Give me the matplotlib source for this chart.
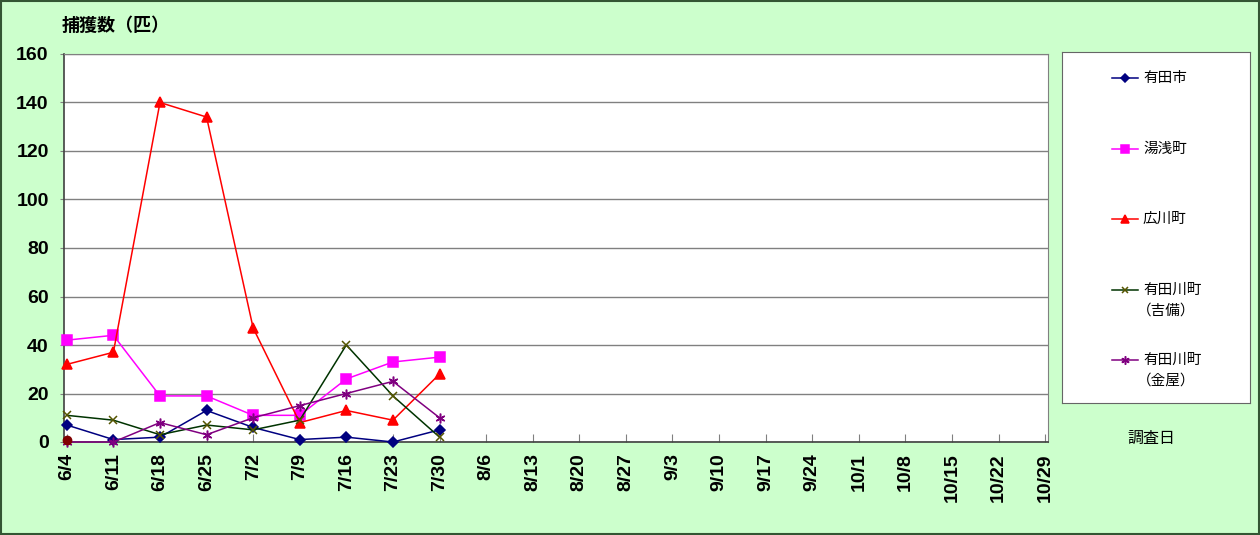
import numpy as np
import matplotlib
matplotlib.use("Agg")
import matplotlib.pyplot as plt
from matplotlib.lines import Line2D

plt.rcParams['font.family'] = ['Liberation Sans', 'Noto Sans CJK JP', 'DejaVu Sans']

# survey dates (category axis)
dates = ["6/4", "6/11", "6/18", "6/25", "7/2", "7/9", "7/16", "7/23", "7/30",
         "8/6", "8/13", "8/20", "8/27", "9/3", "9/10", "9/17", "9/24",
         "10/1", "10/8", "10/15", "10/22", "10/29"]

# catch counts, only first 9 dates have data
arida_shi = [7, 1, 2, 13, 6, 1, 2, 0, 5]
yuasa = [42, 44, 19, 19, 11, 11, 26, 33, 35]
hirogawa = [32, 37, 140, 134, 47, 8, 13, 9, 28]
aridagawa_kibi = [11, 9, 3, 7, 5, 9, 40, 19, 2]
aridagawa_kanaya = [0, 0, 8, 3, 10, 15, 20, 25, 10]
extra_point = [1]  # stray dark red marker at 6/4

series = [
    ("有田市", arida_shi, "#000080", "D", 5, "#000080"),
    ("湯浅町", yuasa, "#FF00FF", "s", 6.5, "#FF00FF"),
    ("広川町", hirogawa, "#FF0000", "^", 6.5, "#FF0000"),
    ("有田川町\n（吉備）", aridagawa_kibi, "#003300", "x", 6, "#555500"),
    ("有田川町\n（金屋）", aridagawa_kanaya, "#800080", (6, 2, 0), 7, "#800080"),
]

fig = plt.figure(figsize=(12.6, 5.35), dpi=100, facecolor="#CCFFCC")
W, H = 1260.0, 535.0
# outer border
fig.patches.append(plt.Rectangle((0.001, 0.002), 0.998, 0.996, transform=fig.transFigure,
                                 fill=False, edgecolor="#335533", linewidth=1.5))

ax = fig.add_axes([64 / W, 1 - 442 / H, (1048 - 64) / W, (442 - 54) / H])
ax.set_facecolor("white")
x = np.arange(len(dates))
for name, vals, col, mk, ms, mcol in series:
    ax.plot(x[:len(vals)], vals, color=col, marker=mk, markersize=ms,
            markerfacecolor=mcol, markeredgecolor=mcol, linewidth=1.1,
            markeredgewidth=1.1, clip_on=False, zorder=3)
ax.plot(x[:1], extra_point, linestyle="none", marker="o", markersize=6,
        color="#800000", clip_on=False, zorder=4)

ax.set_xlim(-0.06, len(dates) - 1 + 0.06)
ax.set_ylim(0, 160)
ax.set_yticks(np.arange(0, 161, 20))
ax.set_xticks(x)
ax.set_xticklabels(dates, rotation=90, fontsize=14, fontweight="bold")
for lab in ax.get_yticklabels():
    lab.set_fontsize(14)
    lab.set_fontweight("bold")
ax.tick_params(axis="x", direction="in", length=6, color="#808080", pad=8)
ax.tick_params(axis="y", direction="out", length=3, color="#808080", pad=8)
ax.yaxis.grid(True, color="#808080", linewidth=1)
ax.set_axisbelow(True)
for s in ["top", "right"]:
    ax.spines[s].set_color("#808080")
for s in ["left", "bottom"]:
    ax.spines[s].set_color("#404040")
    ax.spines[s].set_linewidth(1.2)

fig.text(62 / W, 1 - 25 / H, "捕獲数（匹）", fontsize=13, fontweight="bold",
         family=["Noto Sans CJK JP"], va="center", ha="left")
fig.text(1151 / W, 1 - 438 / H, "調査日", fontsize=11.5,
         family=["Noto Sans CJK JP"], va="center", ha="center")

# legend box drawn as its own axes
lx0, lx1, ly0, ly1 = 1062, 1250, 52, 403
lax = fig.add_axes([lx0 / W, 1 - ly1 / H, (lx1 - lx0) / W, (ly1 - ly0) / H])
lax.set_xlim(lx0, lx1)
lax.set_ylim(ly1, ly0)
lax.set_xticks([])
lax.set_yticks([])
for s in lax.spines.values():
    s.set_color("#666666")
rows = [78, 149, 219, 290, 360]
for (name, vals, col, mk, ms, mcol), yy in zip(series, rows):
    lax.add_line(Line2D([1112, 1138], [yy, yy], color=col, linewidth=1.1))
    lax.plot([1125], [yy], marker=mk, markersize=ms - 1, color=mcol,
             markeredgewidth=1.1, linestyle="none")
    lines = name.split("\n")
    lax.text(1143, yy, lines[0], fontsize=10.5, family=["Noto Sans CJK JP"],
             va="center", ha="left")
    if len(lines) > 1:
        lax.text(1137, yy + 21, lines[1], fontsize=10.5, family=["Noto Sans CJK JP"],
                 va="center", ha="left")

fig.savefig("out.png", dpi=100, facecolor=fig.get_facecolor())
